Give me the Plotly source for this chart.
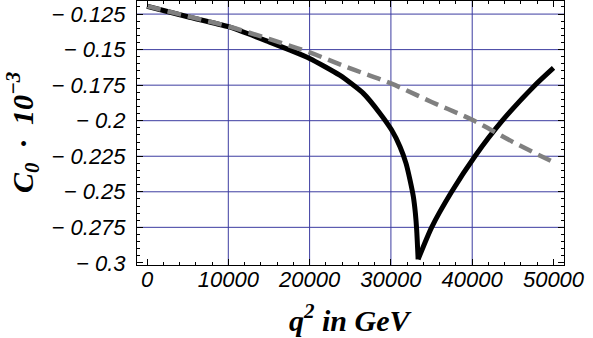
import plotly.graph_objects as go

# data
q_left = [0, 5000, 10000, 15000, 17600, 20000, 23700, 26610, 28660, 30090, 31120,
          31860, 32350, 32760, 33010, 33170, 33350]
c_left = [-0.1195, -0.1269, -0.1339, -0.1445, -0.1504, -0.1562, -0.1680, -0.1808,
          -0.1949, -0.2066, -0.2183, -0.2300, -0.2417, -0.2534, -0.2651, -0.2768,
          -0.2975]
q_right = [33350, 35010, 37470, 40340, 43700, 47720, 50000]
c_right = [-0.2975, -0.2750, -0.2500, -0.2250, -0.2000, -0.1750, -0.1628]
q_dash = [0, 5000, 10000, 15000, 20000, 25000, 30000, 35000, 40000, 45000, 50000]
c_dash = [-0.1194, -0.1265, -0.1337, -0.1425, -0.1520, -0.1632, -0.1738, -0.1868,
          -0.1994, -0.2149, -0.2292]

x_ticks = [0, 10000, 20000, 30000, 40000, 50000]
x_ticklabels = ["0", "10000", "20000", "30000", "40000", "50000"]
y_ticks = [-0.125, -0.15, -0.175, -0.2, -0.225, -0.25, -0.275, -0.3]
y_ticklabels = ["\u2212 0.125", "\u2212 0.15", "\u2212 0.175", "\u2212 0.2",
                "\u2212 0.225", "\u2212 0.25", "\u2212 0.275", "\u2212 0.3"]
x_grid = [10000, 20000, 30000, 40000]
y_grid = [-0.125, -0.15, -0.175, -0.2, -0.225, -0.25, -0.275]

x_range = [-1230, 51290]
y_range = [-0.3015, -0.1158]

fig = go.Figure()

grid_color = "rgb(60,60,160)"
shapes = []
for gx in x_grid:
    shapes.append(dict(type="line", xref="x", yref="paper", x0=gx, x1=gx, y0=0, y1=1,
                       line=dict(color=grid_color, width=1), layer="below"))
for gy in y_grid:
    shapes.append(dict(type="line", xref="paper", yref="y", x0=0, x1=1, y0=gy, y1=gy,
                       line=dict(color=grid_color, width=1), layer="below"))

fig.add_trace(go.Scatter(x=q_left, y=c_left, mode="lines",
                         line=dict(color="black", width=5, shape="spline", smoothing=0.6),
                         showlegend=False))
fig.add_trace(go.Scatter(x=q_right, y=c_right, mode="lines",
                         line=dict(color="black", width=5, shape="spline", smoothing=0.6),
                         showlegend=False))
fig.add_trace(go.Scatter(x=q_dash, y=c_dash, mode="lines",
                         line=dict(color="#808080", width=4.5, dash="14px,7px",
                                   shape="spline"),
                         showlegend=False))

tick_font = dict(family="Liberation Sans", size=22, color="black", style="italic")
title_font = dict(family="Liberation Serif", size=30, color="black", style="italic", weight="bold")

fig.update_layout(
    width=593, height=338,
    template="none",
    margin=dict(l=137, r=29, t=1, b=73),
    plot_bgcolor="white", paper_bgcolor="white",
    shapes=shapes,
    xaxis=dict(range=x_range, tickvals=x_ticks, ticktext=x_ticklabels, automargin=False,
               showgrid=False, zeroline=False, showline=True, linecolor="black",
               linewidth=1, mirror="ticks", ticks="inside", ticklen=6,
               tickcolor="black", ticklabelstandoff=-5,
               minor=dict(dtick=2000, ticks="inside", ticklen=3, tickcolor="black", showgrid=False),
               tickfont=tick_font),
    yaxis=dict(range=y_range, tickvals=y_ticks, ticktext=y_ticklabels, automargin=False,
               showgrid=False, zeroline=False, showline=True, linecolor="black",
               linewidth=1, mirror="ticks", ticks="inside", ticklen=6,
               tickcolor="black", ticklabelstandoff=6,
               minor=dict(dtick=0.005, ticks="inside", ticklen=3, tickcolor="black", showgrid=False),
               tickfont=tick_font),
    annotations=[
        dict(text="q<sup>2</sup> in GeV", xref="paper", yref="paper", x=0.5, y=0,
             xanchor="center", yanchor="top", yshift=-32, showarrow=False, font=title_font),
        dict(text="C<sub>0</sub>  \u00b7  10<sup>\u22123</sup>", xref="paper", yref="paper",
             x=0, y=0.5, xanchor="center", yanchor="middle", xshift=-115, textangle=-90,
             showarrow=False, font=title_font),
    ],
)

fig.write_html("out.html", config={"displayModeBar": False},
               post_script="document.body.style.margin='0';")
